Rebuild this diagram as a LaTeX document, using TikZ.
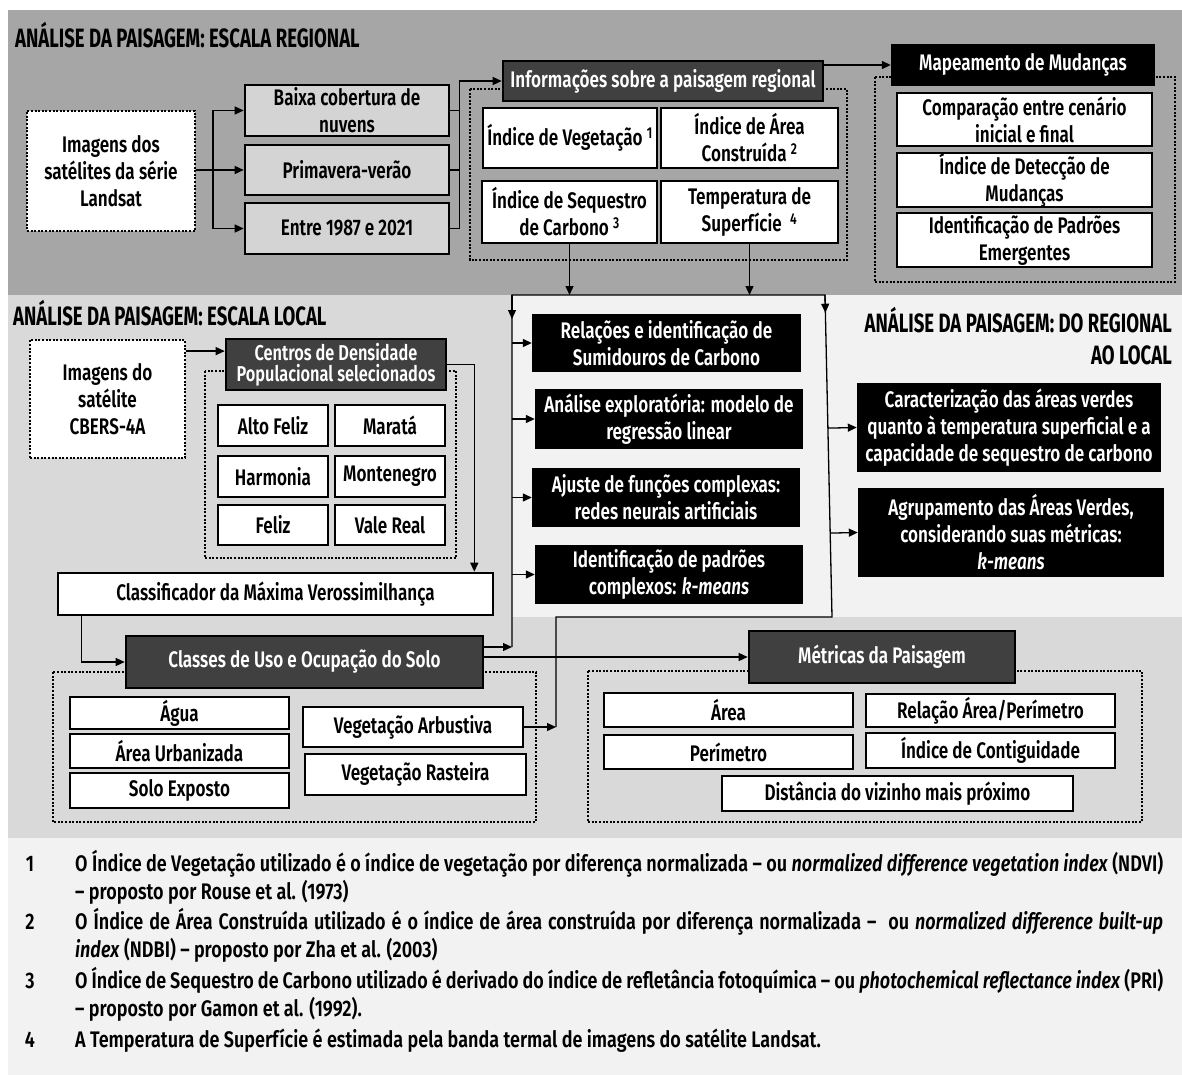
\documentclass[tikz,border=0pt]{standalone}
\usepackage{fontspec}
\setmainfont{Fira Sans}[UprightFont=* SemiBold, ItalicFont=* SemiBold Italic, BoldFont=* Bold, FakeStretch=0.76]
\newfontfamily\headfont{Fira Sans}[UprightFont=* Bold, FakeStretch=0.7]
\newfontfamily\notafamily{Fira Sans}[UprightFont=* SemiBold, ItalicFont=* SemiBold Italic, FakeStretch=0.8]
\usetikzlibrary{arrows.meta,calc}

\definecolor{regional}{RGB}{166,166,166}
\definecolor{local}{RGB}{217,217,217}
\definecolor{claro}{RGB}{242,242,242}
\definecolor{escuro}{RGB}{64,64,64}
\definecolor{cinzabox}{RGB}{212,212,212}

\newcommand{\caixafont}{\fontsize{22.5}{27}\selectfont}
\newcommand{\notafont}{\notafamily\fontsize{22.5}{28}\selectfont}
\newcommand{\titulofont}{\headfont\fontsize{26.5}{32}\selectfont}

\tikzset{
  caixa/.style={draw, line width=2.6pt, fill=white, align=center, font=\caixafont, inner sep=0pt},
  cinza/.style={caixa, fill=cinzabox},
  escura/.style={caixa, fill=escuro, text=white},
  preta/.style={fill=black, text=white, align=center, font=\caixafont, inner sep=0pt},
  tam/.style 2 args={minimum width=#1pt, minimum height=#2pt},
  grupo/.style={draw, line width=2pt, dash pattern=on 2pt off 1.6pt},
  pontilhada/.style={grupo, fill=white, align=center, font=\caixafont, inner sep=0pt},
  linha/.style={line width=1.3pt},
  seta/.style={line width=1.3pt, -{Triangle[length=9pt,width=8pt]}},
  titulo/.style={anchor=west, font=\titulofont, inner sep=0pt},
  nota/.style={anchor=base west, inner sep=0pt, font=\notafont},
}

\begin{document}
\begin{tikzpicture}[x=1pt, y=-1pt]
    \useasboundingbox (0,0) rectangle (1182,1075);

    % Fundos
    \fill[regional] (8,10) rectangle (1182,295);
    \fill[local] (8,295) rectangle (1182,838);
    \fill[claro] (512,295) rectangle (1182,617);
    \fill[claro] (8,838) rectangle (1182,1075);

    % Escala regional
    \node[titulo] (tReg) at (15,35) {ANÁLISE DA PAISAGEM: ESCALA REGIONAL};
    \node[pontilhada, tam={168}{120}] (imgL) at (111,171) {Imagens dos\\satélites da série\\Landsat};
    \node[cinza, tam={204}{51}] (b1) at (347,110.5) {Baixa cobertura de\\nuvens};
    \node[cinza, tam={204}{50}] (b2) at (347,170) {Primavera-verão};
    \node[cinza, tam={204}{51}] (b3) at (347,228.5) {Entre 1987 e 2021};

    \draw[grupo] (470,89) rectangle (847,260);
    \node[escura, tam={320}{40}] (info) at (663,81) {Informações sobre a paisagem regional};
    \node[caixa, tam={174}{60}] (veg) at (570,138) {Índice de Vegetação \textsuperscript{1}};
    \node[caixa, tam={177}{60}] (area) at (749.5,138) {Índice de Área\\Construída \textsuperscript{2}};
    \node[caixa, tam={175}{62}] (seq) at (569.5,212) {Índice de Sequestro\\de Carbono \textsuperscript{3}};
    \node[caixa, tam={177}{62}] (temp) at (749.5,212) {Temperatura de\\Superfície \ \textsuperscript{4}};

    \draw[grupo] (875,77) rectangle (1175,282);
    \node[preta, tam={264}{42}] (mapa) at (1023,65) {Mapeamento de Mudanças};
    \node[caixa, tam={255}{53}] (comp) at (1024.5,119.5) {Comparação entre cenário\\inicial e final};
    \node[caixa, tam={255}{54}] (detec) at (1024.5,180) {Índice de Detecção de\\Mudanças};
    \node[caixa, tam={255}{54}] (padr) at (1024.5,240) {Identificação de Padrões\\Emergentes};

    \draw[seta] (imgL.east |- b2.west) -- (b2.west);
    \draw[seta] (imgL.east |- b2.west) -- ++(17,0) |- (b1.west);
    \draw[seta] (imgL.east |- b2.west) -- ++(17,0) |- (b3.west);
    \draw[linha] (b1.east) -- ++(9,0);
    \draw[linha] (b2.east) -- ++(9,0);
    \draw[seta] (b3.east) -- ++(9,0) |- (info.west);
    \draw[seta] (info.east |- mapa.west) -- (mapa.west);

    % Escala local
    \node[titulo] (tLoc) at (13,313) {ANÁLISE DA PAISAGEM: ESCALA LOCAL};
    \node[pontilhada, tam={155}{118}] (cbers) at (107.5,399) {Imagens do\\satélite\\CBERS-4A};

    \draw[grupo] (205,371) rectangle (456,558);
    \node[escura, tam={220}{51}, font=\fontsize{21.5}{21.5}\selectfont] (centros) at (336,364.5) {Centros de Densidade\\Populacional selecionados};
    \node[caixa, tam={110}{41}] (alto) at (273,425.5) {Alto Feliz};
    \node[caixa, tam={110}{41}] (marata) at (390,425.5) {Maratá};
    \node[caixa, tam={110}{41}] (harm) at (273,476.5) {Harmonia};
    \node[caixa, tam={110}{41}] (monte) at (390,476.5) {Montenegro};
    \node[caixa, tam={110}{40}] (feliz) at (273,525) {Feliz};
    \node[caixa, tam={110}{40}] (vale) at (390,525) {Vale Real};

    \node[caixa, tam={435}{42}] (classif) at (275.5,594) {Classificador da Máxima Verossimilhança};

    \draw[grupo] (53,672) rectangle (536,822);
    \node[escura, tam={357}{52}] (classes) at (304.5,662) {Classes de Uso e Ocupação do Solo};
    \node[caixa, tam={219}{32}] (agua) at (179.5,713) {Água};
    \node[caixa, tam={219}{34}] (urb) at (179.5,751) {Área Urbanizada};
    \node[caixa, tam={219}{35}] (solo) at (179.5,790.5) {Solo Exposto};
    \node[caixa, tam={220}{40}] (arbust) at (413,727) {Vegetação Arbustiva};
    \node[caixa, tam={221}{41}] (rast) at (415.5,774.5) {Vegetação Rasteira};

    \draw[grupo] (588,671) rectangle (1142,822);
    \node[escura, tam={266}{52}] (metr) at (882,657) {Métricas da Paisagem};
    \node[caixa, tam={249}{34}] (areaM) at (728.5,710) {Área};
    \node[caixa, tam={249}{33}] (relM) at (990.5,710.5) {Relação Área/Perímetro};
    \node[caixa, tam={249}{34}] (perim) at (728.5,752) {Perímetro};
    \node[caixa, tam={249}{35}] (contig) at (990.5,750.5) {Índice de Contiguidade};
    \node[caixa, tam={351}{35}] (dist) at (897.5,793.5) {Distância do vizinho mais próximo};

    \coordinate (c1) at ($(centros.north west)!0.25!(centros.south west)$);
    \draw[seta] (c1 -| cbers.east) -- (c1);
    \draw[seta] (centros.east) -| ([xshift=-20pt]classif.north east);
    \draw[seta] ([xshift=25pt]classif.south west) |- (classes.west);

    % Do regional ao local
    \node[anchor=north east, align=right, font=\titulofont, inner sep=0pt] (tRL) at (1172,307) {ANÁLISE DA PAISAGEM: DO REGIONAL\\AO LOCAL};
    \node[preta, tam={269}{58}] (rel1) at (666.5,343) {Relações e identificação de\\Sumidouros de Carbono};
    \node[preta, tam={268}{60}] (anal) at (669,419) {Análise exploratória: modelo de\\regressão linear};
    \node[preta, tam={268}{59}] (ajuste) at (666,497.5) {Ajuste de funções complexas:\\redes neurais artificiais};
    \node[preta, tam={268}{59}] (ident) at (669,574.5) {Identificação de padrões\\complexos: \textit{k-means}};
    \node[preta, tam={304}{89}] (carac) at (1009,427.5) {Caracterização das áreas verdes\\quanto à temperatura superficial e a\\capacidade de sequestro de carbono};
    \node[preta, tam={306}{89}] (agrup) at (1011,532.5) {Agrupamento das Áreas Verdes,\\considerando suas métricas:\\\textit{k-means}};

    \coordinate (fTL) at (512,295);
    \coordinate (fTR) at (825,295);
    \coordinate (fBR) at (832,617);
    \coordinate (fB) at (556,617);
    \coordinate (fL) at (512,647);
    \draw[linha] (arbust.east -| fB) -- (fB) -- (fBR) -- (fTR) -- (fTL) -- (fL);
    \draw[seta] (fTL) -- ++(0,24);
    \draw[seta] (fTR) -- ($(fTR)!0.055!(fBR)$);
    \draw[seta] (seq.south) -- (seq.south |- fTL);
    \draw[seta] (temp.south) -- (temp.south |- fTL);
    \draw[seta] (rel1.west -| fTL) -- (rel1.west);
    \draw[seta] (anal.west -| fTL) -- (anal.west);
    \draw[seta] (ajuste.west -| fTL) -- (ajuste.west);
    \draw[seta] (ident.west -| fTL) -- (ident.west);
    \draw[seta] ($(fTR)!(carac.west)!(fBR)$) -- (carac.west);
    \draw[seta] ($(fTR)!(agrup.west)!(fBR)$) -- (agrup.west);
    \draw[seta] (classes.east |- fL) -- (fL);
    \draw[seta] (classes.east |- metr.west) -- (metr.west);
    \draw[seta] (arbust.east) -- (arbust.east -| fB);

    % Notas
    \node[nota, anchor=base] (n1) at (30,871) {1};
    \node[nota] (f1a) at (75,871) {\makebox[1088pt][s]{O Índice de Vegetação utilizado é o índice de vegetação por diferença normalizada – ou \textit{normalized difference vegetation index} (NDVI)}};
    \node[nota] (f1b) at (75,899) {– proposto por Rouse et al. (1973)};
    \node[nota, anchor=base] (n2) at (30,929) {2};
    \node[nota] (f2a) at (75,929) {\makebox[1088pt][s]{O Índice de Área Construída utilizado é o índice de área construída por diferença normalizada – \ ou \textit{normalized difference built-up}}};
    \node[nota] (f2b) at (75,957) {\textit{index} (NDBI) – proposto por Zha et al. (2003)};
    \node[nota, anchor=base] (n3) at (30,988) {3};
    \node[nota] (f3a) at (75,988) {\makebox[1088pt][s]{O Índice de Sequestro de Carbono utilizado é derivado do índice de refletância fotoquímica – ou \textit{photochemical reflectance index} (PRI)}};
    \node[nota] (f3b) at (75,1016) {– proposto por Gamon et al. (1992).};
    \node[nota, anchor=base] (n4) at (30,1047) {4};
    \node[nota] (f4a) at (75,1047) {A Temperatura de Superfície é estimada pela banda termal de imagens do satélite Landsat.};

\end{tikzpicture}
\end{document}
